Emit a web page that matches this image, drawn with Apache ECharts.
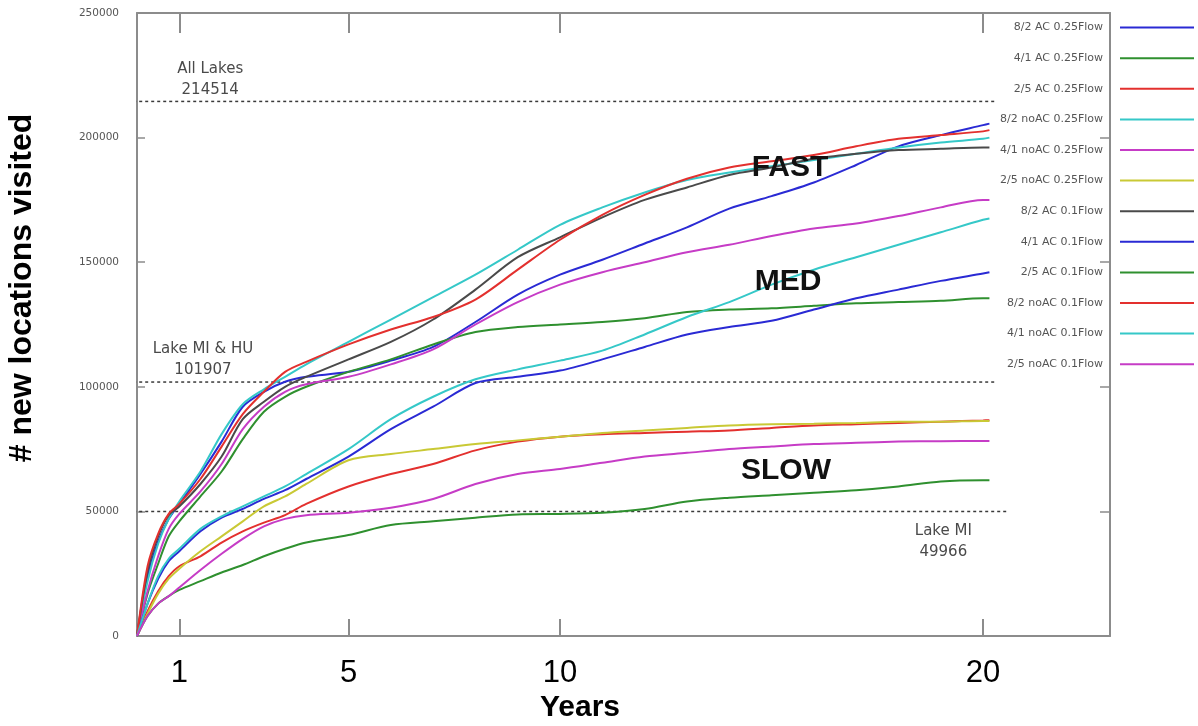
<!DOCTYPE html>
<html>
<head>
<meta charset="utf-8">
<script src="https://cdn.jsdelivr.net/npm/echarts@6/dist/echarts.min.js"></script>
<style>
  html, body { margin: 0; padding: 0; background: #ffffff; }
  #chart { width: 1198px; height: 726px; }
</style>
</head>
<body>
<div id="chart"></div>
<script>
// Simulated years since release
const years = [0, 0.25, 0.5, 0.75, 1, 1.5, 2, 2.5, 3, 3.5, 4, 5, 6, 7, 8, 9, 10, 11, 12, 13, 14, 15, 16, 17, 18, 19, 20, 20.15];

// Cumulative number of new locations visited, one array per scenario
const v_82_AC_025   = [0, 24000, 38000, 47000, 53000, 65000, 78000, 92000, 98000, 102000, 104000, 106000, 110500, 116000, 126000, 137000, 145000, 151000, 157500, 164000, 171500, 176500, 182000, 189000, 196500, 201000, 205000, 205600];
const v_41_AC_025   = [0, 17000, 29000, 40000, 46000, 56000, 66000, 79000, 90000, 96000, 100000, 106000, 111000, 117000, 122000, 124000, 125000, 126000, 127500, 130000, 131000, 131500, 132500, 133500, 134000, 134500, 135500, 135500];
const v_25_AC_025   = [0, 10000, 18000, 24000, 28000, 32000, 37500, 42000, 45500, 48500, 53000, 60000, 65000, 69000, 74500, 78000, 80000, 81000, 81500, 82000, 82500, 83500, 84500, 85000, 85500, 86000, 86500, 86600];
const v_82_noAC_025 = [0, 22000, 37000, 47000, 54000, 66000, 81000, 93000, 99000, 104000, 109000, 118000, 127000, 136000, 145000, 155000, 165000, 172000, 178000, 183000, 186000, 188500, 191000, 193500, 196000, 198000, 199500, 200000];
const v_41_noAC_025 = [0, 18000, 32000, 43000, 49000, 58000, 69000, 83000, 92000, 98000, 101000, 104000, 109000, 115000, 125000, 134000, 141000, 146000, 150000, 154000, 157000, 160500, 163500, 165500, 168500, 172000, 175000, 175000];
const v_25_noAC_025 = [0, 9000, 17000, 23000, 27000, 34000, 40000, 46000, 52000, 56000, 61000, 70500, 73000, 75000, 77000, 78500, 80000, 81500, 82500, 83500, 84500, 85000, 85200, 85500, 86000, 86000, 86300, 86300];
const v_82_AC_01    = [0, 26000, 40000, 48500, 52000, 61000, 72000, 87000, 94000, 100000, 104000, 111000, 118000, 127000, 139000, 152000, 160000, 168000, 175000, 180000, 185000, 188000, 191500, 193500, 195000, 195500, 196000, 196000];
const v_41_AC_01    = [0, 13000, 23000, 30000, 34000, 42000, 47500, 51000, 55000, 58500, 63000, 72000, 83000, 92000, 101500, 104000, 106500, 111000, 116000, 121000, 124000, 126500, 131000, 135500, 139000, 142500, 145500, 146000];
const v_25_AC_01    = [0, 8000, 13000, 16000, 18500, 22000, 25500, 28500, 32000, 35000, 37500, 40500, 44500, 46000, 47500, 48800, 49000, 49500, 51000, 54000, 55500, 56500, 57500, 58500, 60000, 62000, 62500, 62500];
const v_82_noAC_01  = [0, 28000, 41000, 49000, 53000, 63000, 76000, 89000, 98000, 106000, 110000, 117000, 123000, 128000, 135000, 147000, 159000, 169000, 177000, 183500, 188000, 190500, 193000, 196500, 199500, 201000, 202500, 203000];
const v_41_noAC_01  = [0, 13000, 24000, 31000, 35000, 43000, 48000, 52000, 56000, 60000, 65000, 75000, 87000, 96000, 103000, 107000, 110500, 114500, 121000, 128000, 134000, 141000, 147000, 152000, 157000, 162000, 167000, 167500];
const v_25_noAC_01  = [0, 8000, 13000, 16000, 19500, 26500, 33000, 39000, 44000, 47000, 48500, 49500, 51500, 55000, 61000, 65000, 67000, 69500, 72000, 73500, 75000, 76000, 77000, 77500, 78000, 78200, 78300, 78300];

const seriesNames = [
  '8/2 AC 0.25Flow', '4/1 AC 0.25Flow', '2/5 AC 0.25Flow',
  '8/2 noAC 0.25Flow', '4/1 noAC 0.25Flow', '2/5 noAC 0.25Flow',
  '8/2 AC 0.1Flow', '4/1 AC 0.1Flow', '2/5 AC 0.1Flow',
  '8/2 noAC 0.1Flow', '4/1 noAC 0.1Flow', '2/5 noAC 0.1Flow'
];
const seriesValues = [
  v_82_AC_025, v_41_AC_025, v_25_AC_025,
  v_82_noAC_025, v_41_noAC_025, v_25_noAC_025,
  v_82_AC_01, v_41_AC_01, v_25_AC_01,
  v_82_noAC_01, v_41_noAC_01, v_25_noAC_01
];

// Reference extents of the lake systems
const lakeNames  = ['All Lakes', 'Lake MI & HU', 'Lake MI'];
const lakeLevels = [214514, 101907, 49966];

const yearTicks = [1, 5, 10, 20];

// ---- styling ----
const palette = ['#2a2ad4', '#2f902f', '#e3302e', '#35c8c8', '#c63cc6', '#c9c935',
                 '#4a4a4a', '#2a2ad4', '#2f902f', '#e3302e', '#35c8c8', '#c63cc6'];
const axisGrey = '#8c8c8c';
const lakeLabelYear = [1.73, 1.56, 19.06];
const lakeLabelPos = ['top', 'top', 'bottom'];
const lakeLabelDist = [1, 1, 9];
const lakeLineEnd = [20.3, 20.3, 20.6];

const chart = echarts.init(document.getElementById('chart'), null, { renderer: 'canvas' });

const curveSeries = seriesNames.map((name, i) => ({
  name: name,
  type: 'line',
  xAxisIndex: 0,
  yAxisIndex: 0,
  data: years.map((y, k) => [y, seriesValues[i][k]]),
  symbol: 'none',
  showSymbol: false,
  smooth: 0.3,
  color: palette[i],
  lineStyle: { width: 2, color: palette[i] },
  z: 3
}));

const lakeSeries = lakeNames.map((name, i) => ({
  name: name,
  type: 'line',
  xAxisIndex: 0,
  yAxisIndex: 0,
  clip: false,
  silent: true,
  symbol: 'none',
  data: [[-1.65, lakeLevels[i]], [lakeLineEnd[i], lakeLevels[i]]],
  lineStyle: { width: 1.5, color: '#3a3a3a', type: [3, 3] },
  z: 2,
  markPoint: {
    symbol: 'circle',
    symbolSize: 0,
    silent: true,
    data: [{ name: name, value: lakeLevels[i], coord: [lakeLabelYear[i], lakeLevels[i]] }],
    label: {
      show: true,
      position: lakeLabelPos[i],
      distance: lakeLabelDist[i],
      formatter: p => p.name + '\n' + p.value,
      fontFamily: 'DejaVu Sans',
      fontSize: 15,
      lineHeight: 21,
      color: '#4a4a4a',
      align: 'center'
    }
  }
}));

const option = {
  animation: false,
  backgroundColor: '#ffffff',
  grid: { left: 137, right: 88, top: 13, bottom: 90, containLabel: false },
  legend: {
    data: seriesNames,
    orient: 'vertical',
    right: 3,
    top: 22,
    padding: 0,
    align: 'right',
    itemWidth: 74,
    itemHeight: 14,
    itemGap: 19.4,
    selectedMode: false,
    itemStyle: { opacity: 0 },
    textStyle: { fontFamily: 'DejaVu Sans', fontSize: 11, color: '#555555', padding: [0, 12, 0, 0] }
  },
  xAxis: [
    {
      type: 'value', position: 'bottom', min: 0, max: 23,
      axisLine: { show: true, lineStyle: { color: axisGrey, width: 2 } },
      axisTick: { show: true, inside: true, length: 17, customValues: yearTicks, lineStyle: { color: axisGrey, width: 2 } },
      axisLabel: { show: true, customValues: yearTicks, margin: 22, fontFamily: 'Liberation Sans', fontSize: 31, color: '#000000' },
      splitLine: { show: false }
    },
    {
      type: 'value', position: 'top', min: 0, max: 23,
      axisLine: { show: true, onZero: false, lineStyle: { color: axisGrey, width: 2 } },
      axisTick: { show: true, inside: true, length: 20, customValues: yearTicks, lineStyle: { color: axisGrey, width: 2 } },
      axisLabel: { show: false },
      splitLine: { show: false }
    }
  ],
  yAxis: [
    {
      type: 'value', position: 'left', min: 0, max: 250000, interval: 50000,
      axisLine: { show: true, lineStyle: { color: axisGrey, width: 2 } },
      axisTick: { show: true, inside: true, length: 8, lineStyle: { color: axisGrey, width: 1.5 } },
      axisLabel: { show: true, margin: 18, fontFamily: 'DejaVu Sans', fontSize: 10.5, color: '#555555', formatter: v => String(v) },
      splitLine: { show: false }
    },
    {
      type: 'value', position: 'right', min: 0, max: 250000, interval: 50000,
      axisLine: { show: true, onZero: false, lineStyle: { color: axisGrey, width: 2 } },
      axisTick: { show: true, inside: true, length: 10, lineStyle: { color: axisGrey, width: 1.5 } },
      axisLabel: { show: false },
      splitLine: { show: false }
    }
  ],
  graphic: [
    { type: 'text', x: 790, y: 168, z: 10, style: { text: 'FAST', font: 'bold 30px "Liberation Sans", Arial, sans-serif', fill: '#111', align: 'center', verticalAlign: 'middle' } },
    { type: 'text', x: 788, y: 282, z: 10, style: { text: 'MED', font: 'bold 30px "Liberation Sans", Arial, sans-serif', fill: '#111', align: 'center', verticalAlign: 'middle' } },
    { type: 'text', x: 786, y: 471, z: 10, style: { text: 'SLOW', font: 'bold 30px "Liberation Sans", Arial, sans-serif', fill: '#111', align: 'center', verticalAlign: 'middle' } },
    { type: 'text', x: 580, y: 708, z: 10, style: { text: 'Years', font: 'bold 30px "Liberation Sans", Arial, sans-serif', fill: '#000', align: 'center', verticalAlign: 'middle' } },
    { type: 'text', x: 22, y: 288, rotation: Math.PI / 2, z: 10, style: { text: '# new locations visited', font: 'bold 32px "Liberation Sans", Arial, sans-serif', fill: '#000', align: 'center', verticalAlign: 'middle' } }
  ],
  series: curveSeries.concat(lakeSeries)
};

chart.setOption(option);
</script>
</body>
</html>
